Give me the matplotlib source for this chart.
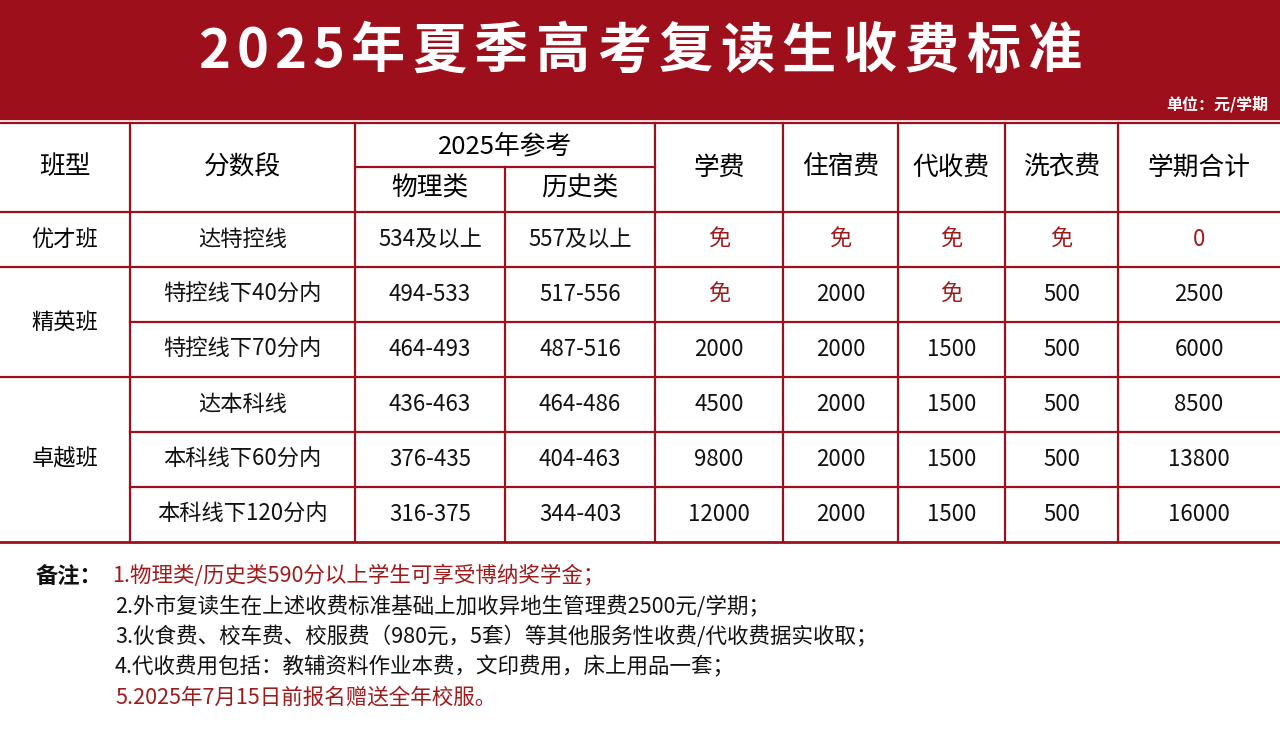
import matplotlib
matplotlib.use("Agg")
import matplotlib.pyplot as plt
from matplotlib.patches import Rectangle

plt.rcParams['font.family'] = ['Noto Sans CJK SC', 'DejaVu Sans']

title = "2025年夏季高考复读生收费标准"
unit = "单位：元/学期"
headers = ["班型", "分数段", "2025年参考", "学费", "住宿费", "代收费", "洗衣费", "学期合计"]
subheaders = ["物理类", "历史类"]
classes = ["优才班", "精英班", "卓越班"]
class_spans = [1, 2, 3]
segments = ["达特控线", "特控线下40分内", "特控线下70分内", "达本科线", "本科线下60分内", "本科线下120分内"]
physics = ["534及以上", "494-533", "464-493", "436-463", "376-435", "316-375"]
history = ["557及以上", "517-556", "487-516", "464-486", "404-463", "344-403"]
tuition = ["免", "免", "2000", "4500", "9800", "12000"]
dorm = ["免", "2000", "2000", "2000", "2000", "2000"]
collect = ["免", "免", "1500", "1500", "1500", "1500"]
laundry = ["免", "500", "500", "500", "500", "500"]
total = ["0", "2500", "6000", "8500", "13800", "16000"]
notes = ["1.物理类/历史类590分以上学生可享受博纳奖学金；",
         "2.外市复读生在上述收费标准基础上加收异地生管理费2500元/学期；",
         "3.伙食费、校车费、校服费（980元，5套）等其他服务性收费/代收费据实收取；",
         "4.代收费用包括：教辅资料作业本费，文印费用，床上用品一套；",
         "5.2025年7月15日前报名赠送全年校服。"]
note_red = [True, False, False, False, True]

RED = "#9e0f1c"
DARK = "#9e1b1b"
fig = plt.figure(figsize=(12.8, 7.46), dpi=100)
ax = fig.add_axes([0, 0, 1, 1])
ax.set_xlim(0, 1280); ax.set_ylim(746, 0); ax.axis("off")

ax.add_patch(Rectangle((0, 0), 1280, 119, color=RED, zorder=0))
# title with letter spacing
tx0, tx1 = 195, 1085
widths = [0.62 if ch.isdigit() else 1.0 for ch in title]
unitw = (tx1 - tx0) / sum(widths)
x = tx0
for ch, w in zip(title, widths):
    ax.text(x + w * unitw / 2, 52, ch, ha="center", va="center", color="white",
            fontsize=39, fontweight="bold")
    x += w * unitw
ax.text(1268, 104, unit, ha="right", va="center", color="white", fontsize=11.5, fontweight="bold")

xs = [0, 130, 355, 505, 655, 783, 898, 1005, 1118, 1280]
top, hbot = 123, 212
rh = 55
rows_y = [hbot + i * rh for i in range(7)]
lw = 1.6
ax.plot([0, 1280], [top, top], color=RED, lw=lw)
ax.plot([0, 1280], [hbot, hbot], color=RED, lw=lw)
ax.plot([355, 655], [167, 167], color=RED, lw=lw)
bounds = [0, 1, 3, 6]
for i in range(1, 7):
    x0 = 0 if i in bounds else 130
    ax.plot([x0, 1280], [rows_y[i], rows_y[i]], color=RED, lw=lw if i < 6 else 2)
for x in xs[1:-1]:
    y0 = 167 if x == 505 else top
    ax.plot([x, x], [y0, rows_y[6]], color=RED, lw=lw)

fs = 18.5
def cx(c): return (xs[c] + xs[c + 1]) / 2
hm = (top + hbot) / 2
hdr_cols = [0, 1, None, 4, 5, 6, 7, 8]
for h, c in zip(headers, hdr_cols):
    if c is None:
        ax.text((355 + 655) / 2, 146, h, ha="center", va="center", fontsize=fs, fontweight="medium")
    else:
        ax.text(cx(c), hm, h, ha="center", va="center", fontsize=fs, fontweight="medium")
ax.text(cx(2), 189, subheaders[0], ha="center", va="center", fontsize=fs, fontweight="medium")
ax.text(cx(3), 189, subheaders[1], ha="center", va="center", fontsize=fs, fontweight="medium")

r = 0
for name, sp in zip(classes, class_spans):
    ax.text(cx(0), (rows_y[r] + rows_y[r + sp]) / 2, name, ha="center", va="center", fontsize=16)
    r += sp
cols = [segments, physics, history, tuition, dorm, collect, laundry, total]
for i in range(6):
    ym = (rows_y[i] + rows_y[i + 1]) / 2
    for j, col in enumerate(cols):
        v = col[i]
        color = DARK if (v == "免" or (j == 7 and v == "0")) else "#111111"
        ax.text(cx(j + 1), ym, v, ha="center", va="center", fontsize=16, color=color)

ax.text(36, 576, "备注：", ha="left", va="center", fontsize=16, fontweight="bold", color="#111111")
for i, (n, red) in enumerate(zip(notes, note_red)):
    ax.text(112 if i == 0 else 115, 576 + i * 30.5, n, ha="left", va="center", fontsize=15.5,
            fontweight="medium", color=DARK if red else "#111111")

fig.savefig("out.png", dpi=100)
